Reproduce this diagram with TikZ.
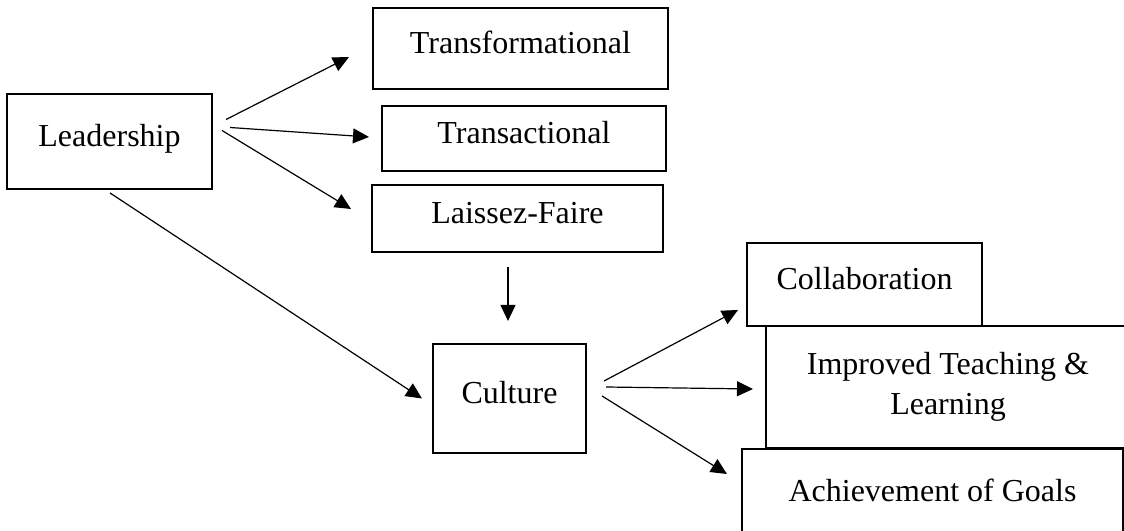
\documentclass[tikz,border=0pt]{standalone}
\usepackage{fontspec}
\setmainfont{Liberation Serif}
\usetikzlibrary{
  arrows.meta,
  calc
}
\tikzset{
  framebox/.style={draw=black,line width=0.75pt,inner sep=0pt,align=center,font=\fontsize{12}{15}\selectfont},
  onelinebox/.style={framebox,text height=0.7em,text depth=0.36em},
  flowarrow/.style={-{Triangle[length=6pt,width=5.6pt]},line width=0.45pt,draw=black}
}

\begin{document}
\begin{tikzpicture}[x=0.375pt,y=-0.375pt]
\useasboundingbox (0,0) rectangle (1124,531);
\clip (0,0) rectangle (1124,531);

\node[onelinebox,minimum width=76.9pt,minimum height=35.6pt] (lead) at (109.5,141.5) {Leadership};
\node[onelinebox,minimum width=110.6pt,minimum height=30.4pt] (tfm) at (520.5,48.5) {Transformational};
\node[onelinebox,minimum width=106.5pt,minimum height=24.4pt] (tsc) at (524,138.5) {Transactional};
\node[onelinebox,minimum width=109.1pt,minimum height=25.1pt] (lf) at (517.5,218.5) {Laissez-Faire};
\node[onelinebox,minimum width=57.4pt,minimum height=40.9pt] (cul) at (509.5,398.5) {Culture};
\node[onelinebox,minimum width=88.1pt,minimum height=31.1pt] (col) at (864.5,284.5) {Collaboration};
\node[framebox,minimum width=136.5pt,minimum height=45.75pt] (itl) at (948,387) {Improved Teaching \&\\Learning};
\node[onelinebox,minimum width=142.9pt,minimum height=36pt] (aog) at (932.5,497) {Achievement of Goals};

% leadership styles
\draw[flowarrow] ($(lead.east)+(13,-22)$) -- ($(tfm.west)+(-23,8.5)$);
\draw[flowarrow] ($(lead.east)+(17,-14)$) -- ($(tsc.west)+(-12,-1.5)$);
\draw[flowarrow] ($(lead.east)+(9,-11)$) -- ($(lf.west)+(-20,-9.5)$);
\draw[flowarrow] ($(lead.south)+(0.5,3)$) -- ($(cul.west)+(-10,0)$);
\draw[flowarrow] ($(lf.south)+(-9.5,14)$) -- ($(cul.north)+(-1.5,-22)$);

% outcomes
\draw[flowarrow] ($(cul.east)+(17,-17.5)$) -- ($(col.south west)+(-8,-17)$);
\draw[flowarrow] ($(cul.east)+(19,-11.5)$) -- ($(itl.west)+(-12,2)$);
\draw[flowarrow] ($(cul.east)+(15,-2.5)$) -- ($(aog.north west)+(-14,26)$);
\end{tikzpicture}
\end{document}
